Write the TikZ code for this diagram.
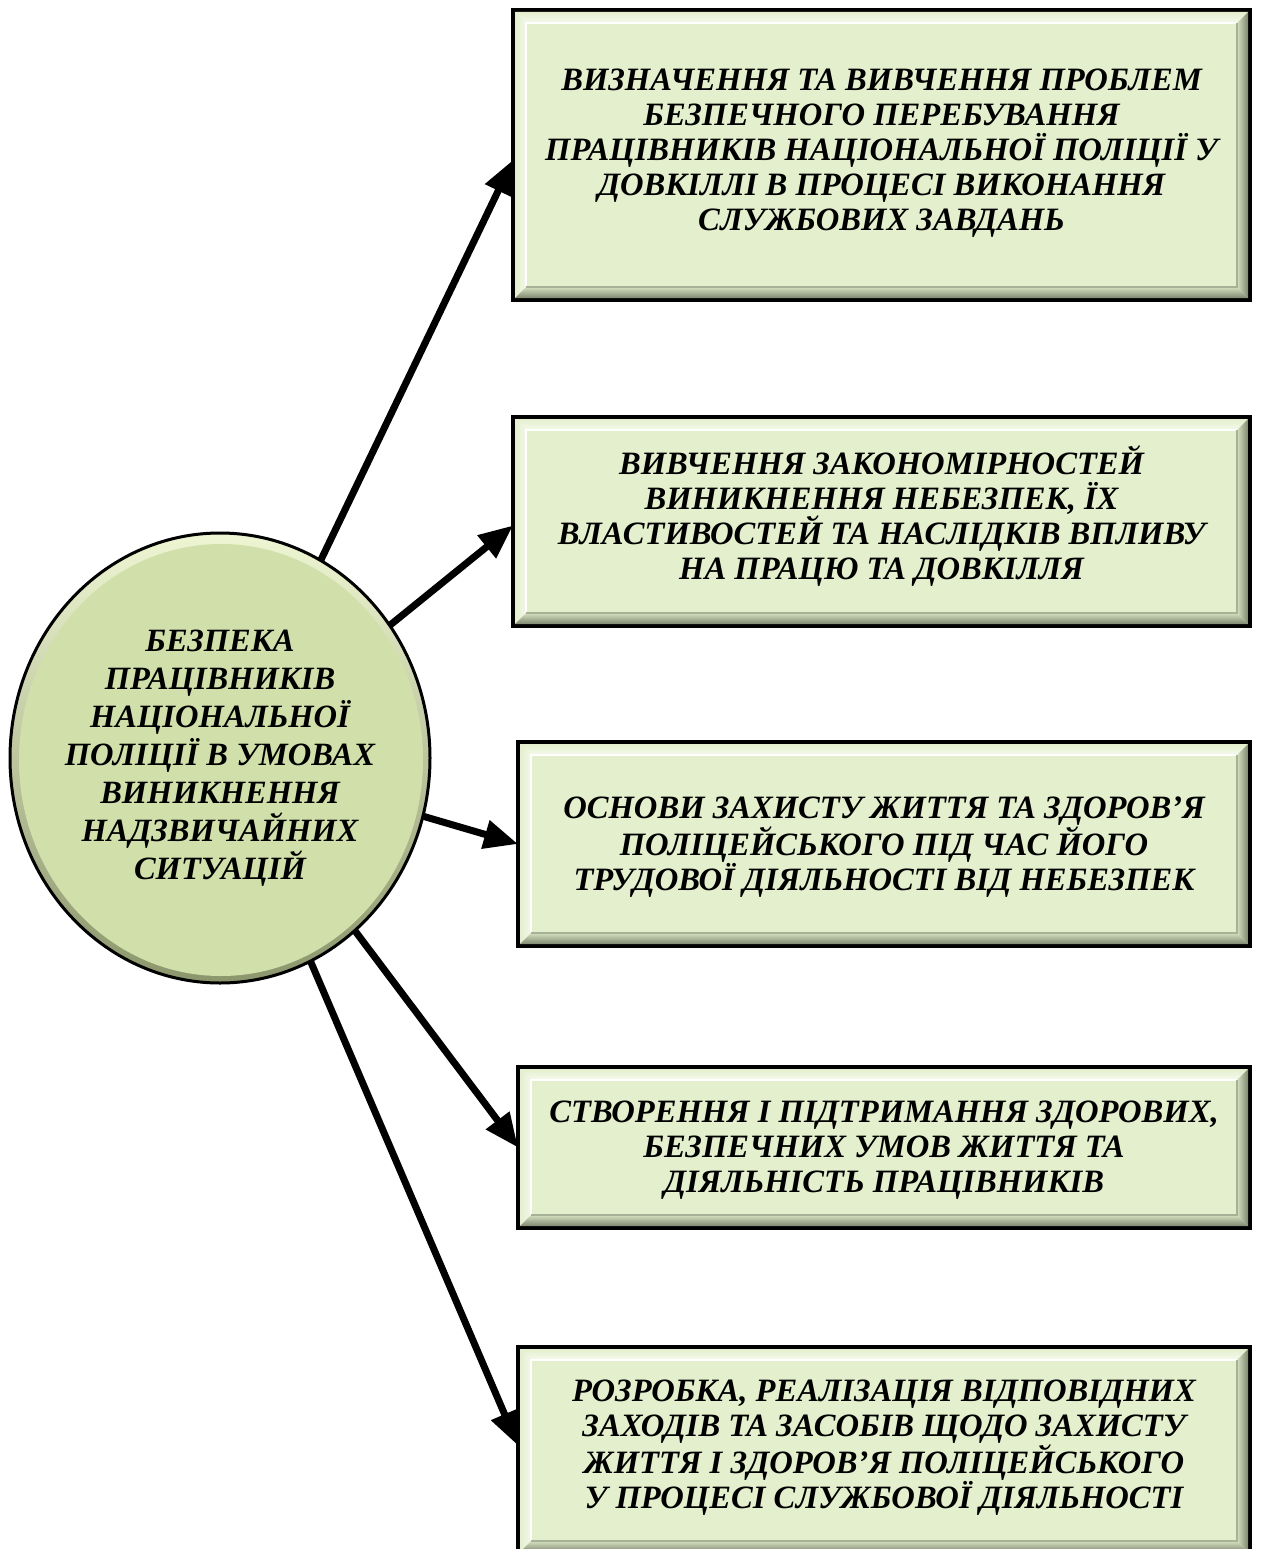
\documentclass[tikz,border=0pt]{standalone}
\usepackage{fontspec}
\setmainfont{Liberation Serif}
\usetikzlibrary{arrows.meta,shapes.geometric,calc}
\definecolor{boxgreen}{RGB}{228,239,205}
\definecolor{boxdark}{RGB}{128,136,112}
\definecolor{circgreen}{RGB}{209,224,170}
\definecolor{circlight}{RGB}{238,245,210}
\definecolor{circdark}{RGB}{140,150,108}
\tikzset{
  box/.style={draw=black, line width=4pt, fill=boxgreen, rectangle, outer sep=0pt, inner sep=0pt},
  boxtext/.style={align=center, inner sep=0pt, font=\fontsize{32.6}{35}\selectfont\bfseries\itshape},
  circtext/.style={align=center, inner sep=0pt, font=\fontsize{32.5}{38}\selectfont\bfseries\itshape},
  circnode/.style={ellipse, minimum width=420pt, minimum height=450pt, outer sep=0pt, inner sep=0pt},
  conn/.style={line width=7pt, -{Triangle[length=34pt,width=28pt]}},
}
\newcommand{\bevelbox}[1]{%
  \coordinate (#1o1) at ($(#1.north west)+(2,2)$);
  \coordinate (#1o2) at ($(#1.north east)+(-2,2)$);
  \coordinate (#1o3) at ($(#1.south east)+(-2,-2)$);
  \coordinate (#1o4) at ($(#1.south west)+(2,-2)$);
  \coordinate (#1i1) at ($(#1.north west)+(13,13)$);
  \coordinate (#1i2) at ($(#1.north east)+(-13,13)$);
  \coordinate (#1i3) at ($(#1.south east)+(-13,-13)$);
  \coordinate (#1i4) at ($(#1.south west)+(13,-13)$);
  \shade[top color=boxgreen, bottom color=white!65!boxgreen] (#1o1)--(#1o2)--(#1i2)--(#1i1)--cycle;
  \shade[left color=boxgreen, right color=white!55!boxgreen] (#1o1)--(#1i1)--(#1i4)--(#1o4)--cycle;
  \shade[left color=boxgreen!85!boxdark, right color=boxdark] (#1i2)--(#1o2)--(#1o3)--(#1i3)--cycle;
  \shade[top color=boxgreen!85!boxdark, bottom color=boxdark] (#1i4)--(#1i3)--(#1o3)--(#1o4)--cycle;
  \draw[white, line width=1.2pt] (#1i4)--(#1i1)--(#1i2);
  \draw[boxdark!60!boxgreen, line width=1.2pt] (#1i2)--(#1i3)--(#1i4);
}
\begin{document}
\begin{tikzpicture}[x=1pt,y=-1pt]
\useasboundingbox (0,0) rectangle (1261,1549);
\clip (0,0) rectangle (1261,1549);
\fill[white] (0,0) rectangle (1261,1549);

% boxes
\node[box, minimum width=737pt, minimum height=290pt] (b1) at (881.5,155) {};
\bevelbox{b1}
\node[boxtext] (t1) at ([yshift=2pt]b1.center) {ВИЗНАЧЕННЯ ТА ВИВЧЕННЯ ПРОБЛЕМ\\БЕЗПЕЧНОГО ПЕРЕБУВАННЯ\\ПРАЦІВНИКІВ НАЦІОНАЛЬНОЇ ПОЛІЦІЇ У\\ДОВКІЛЛІ В ПРОЦЕСІ ВИКОНАННЯ\\СЛУЖБОВИХ ЗАВДАНЬ};

\node[box, minimum width=737pt, minimum height=209pt] (b2) at (881.5,521.5) {};
\bevelbox{b2}
\node[boxtext] (t2) at ([yshift=5pt]b2.center) {ВИВЧЕННЯ ЗАКОНОМІРНОСТЕЙ\\ВИНИКНЕННЯ НЕБЕЗПЕК, ЇХ\\ВЛАСТИВОСТЕЙ ТА НАСЛІДКІВ ВПЛИВУ\\НА ПРАЦЮ ТА ДОВКІЛЛЯ};

\node[box, minimum width=732pt, minimum height=204pt] (b3) at (884,844) {};
\bevelbox{b3}
\node[boxtext] (t3) at ([yshift=-3pt]b3.center) {ОСНОВИ ЗАХИСТУ ЖИТТЯ ТА ЗДОРОВ’Я\\ПОЛІЦЕЙСЬКОГО ПІД ЧАС ЙОГО\\ТРУДОВОЇ ДІЯЛЬНОСТІ ВІД НЕБЕЗПЕК};

\node[box, minimum width=732pt, minimum height=161pt] (b4) at (884,1147.5) {};
\bevelbox{b4}
\node[boxtext] (t4) at ([yshift=-3pt]b4.center) {СТВОРЕННЯ І ПІДТРИМАННЯ ЗДОРОВИХ,\\БЕЗПЕЧНИХ УМОВ ЖИТТЯ ТА\\ДІЯЛЬНІСТЬ ПРАЦІВНИКІВ};

\node[box, minimum width=732pt, minimum height=207pt] (b5) at (884,1450.5) {};
\bevelbox{b5}
\node[boxtext] (t5) at ([yshift=3pt]b5.center) {РОЗРОБКА, РЕАЛІЗАЦІЯ ВІДПОВІДНИХ\\ЗАХОДІВ ТА ЗАСОБІВ ЩОДО ЗАХИСТУ\\ЖИТТЯ І ЗДОРОВ’Я ПОЛІЦЕЙСЬКОГО\\У ПРОЦЕСІ СЛУЖБОВОЇ ДІЯЛЬНОСТІ};

% circle
\node[circnode] (c) at (220,758) {};
\shade[top color=circlight, bottom color=circdark] (c.center) ellipse [x radius=209, y radius=224];
\fill[circgreen] ([shift={(1,2)}]c.center) ellipse [x radius=202, y radius=216];
\draw[black, line width=3pt] (c.center) ellipse [x radius=210, y radius=225];
\node[circtext] (ct) at (c.center) {БЕЗПЕКА\\ПРАЦІВНИКІВ\\НАЦІОНАЛЬНОЇ\\ПОЛІЦІЇ В УМОВАХ\\ВИНИКНЕННЯ\\НАДЗВИЧАЙНИХ\\СИТУАЦІЙ};

% connectors
\draw[conn] (c.63.9) -- ([yshift=-5pt]b1.west);
\draw[conn] (c.38.8) -- ([yshift=-4pt]b2.west);
\draw[conn] (c.-16.3) -- (b3.west);
\draw[conn] (c.-52.4) -- (b4.west);
\draw[conn] (c.-66.7) -- ([yshift=5pt]b5.west);
\end{tikzpicture}
\end{document}
